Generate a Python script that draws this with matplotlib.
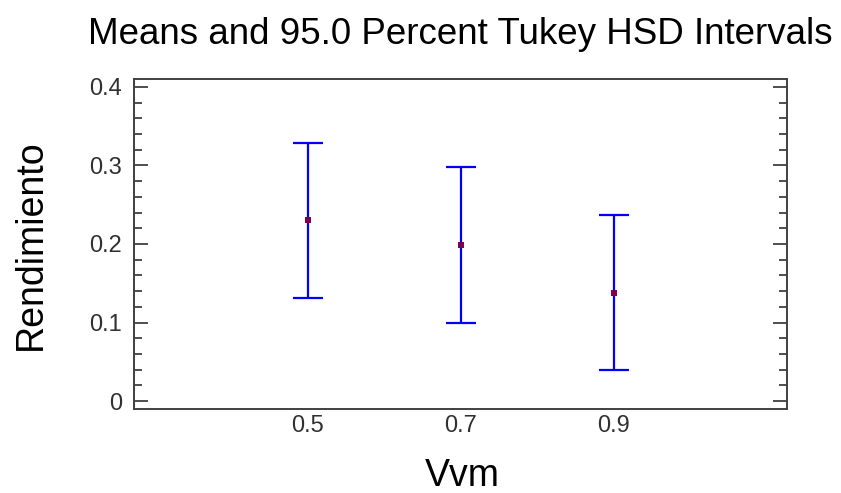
import numpy as np
import matplotlib.pyplot as plt
from matplotlib.ticker import MultipleLocator

plt.rcParams['font.family'] = ['Liberation Sans', 'DejaVu Sans']

# Means and Tukey HSD interval limits
levels = ['0.5', '0.7', '0.9']
means = [0.230, 0.199, 0.138]
lower = [0.131, 0.100, 0.039]
upper = [0.329, 0.298, 0.237]
y_ticks = [0, 0.1, 0.2, 0.3, 0.4]
y_ticklabels = ['0', '0.1', '0.2', '0.3', '0.4']

fig = plt.figure(figsize=(8.41, 4.93), dpi=100)
ax = fig.add_axes([0.1593, 0.1704, 0.7765, 0.6694])

x = np.arange(len(levels))
m = np.array(means)
err = [m - np.array(lower), np.array(upper) - m]

# interval bars in blue, mean as a small dark red square
ax.errorbar(x, m, yerr=err, fmt='none', ecolor='#0000ff', elinewidth=1.6,
            capsize=10.8, capthick=1.6, zorder=2)
ax.plot(x, m, linestyle='none', marker='s', markersize=3.8,
        color='#80004a', markeredgewidth=0, zorder=3)

ax.set_xlim(-1.135, 2 + 1.13)
ax.set_ylim(-0.01, 0.41)
ax.set_xticks(x)
ax.set_xticklabels(levels)
ax.set_yticks(y_ticks)
ax.set_yticklabels(y_ticklabels)
ax.yaxis.set_minor_locator(MultipleLocator(0.02))

for s in ax.spines.values():
    s.set_color('#404040')
    s.set_linewidth(1.4)

ax.tick_params(axis='x', length=0, pad=4.5, labelsize=17, colors='#303030')
ax.tick_params(axis='y', which='major', direction='in', length=10, width=1.3,
               left=True, right=True, pad=8.6, labelsize=17,
               color='#404040', labelcolor='#303030')
ax.tick_params(axis='y', which='minor', direction='in', length=5.5,
               width=1.3, left=True, right=True, color='#404040')

ax.set_title('Means and 95.0 Percent Tukey HSD Intervals', fontsize=26.5,
             pad=25)
ax.set_ylabel('Rendimiento', fontsize=27)
ax.yaxis.set_label_coords(-0.131, 0.497)
ax.set_xlabel('Vvm', fontsize=27)
ax.xaxis.set_label_coords(0.503, -0.15)

fig.savefig('out.png', dpi=100)
